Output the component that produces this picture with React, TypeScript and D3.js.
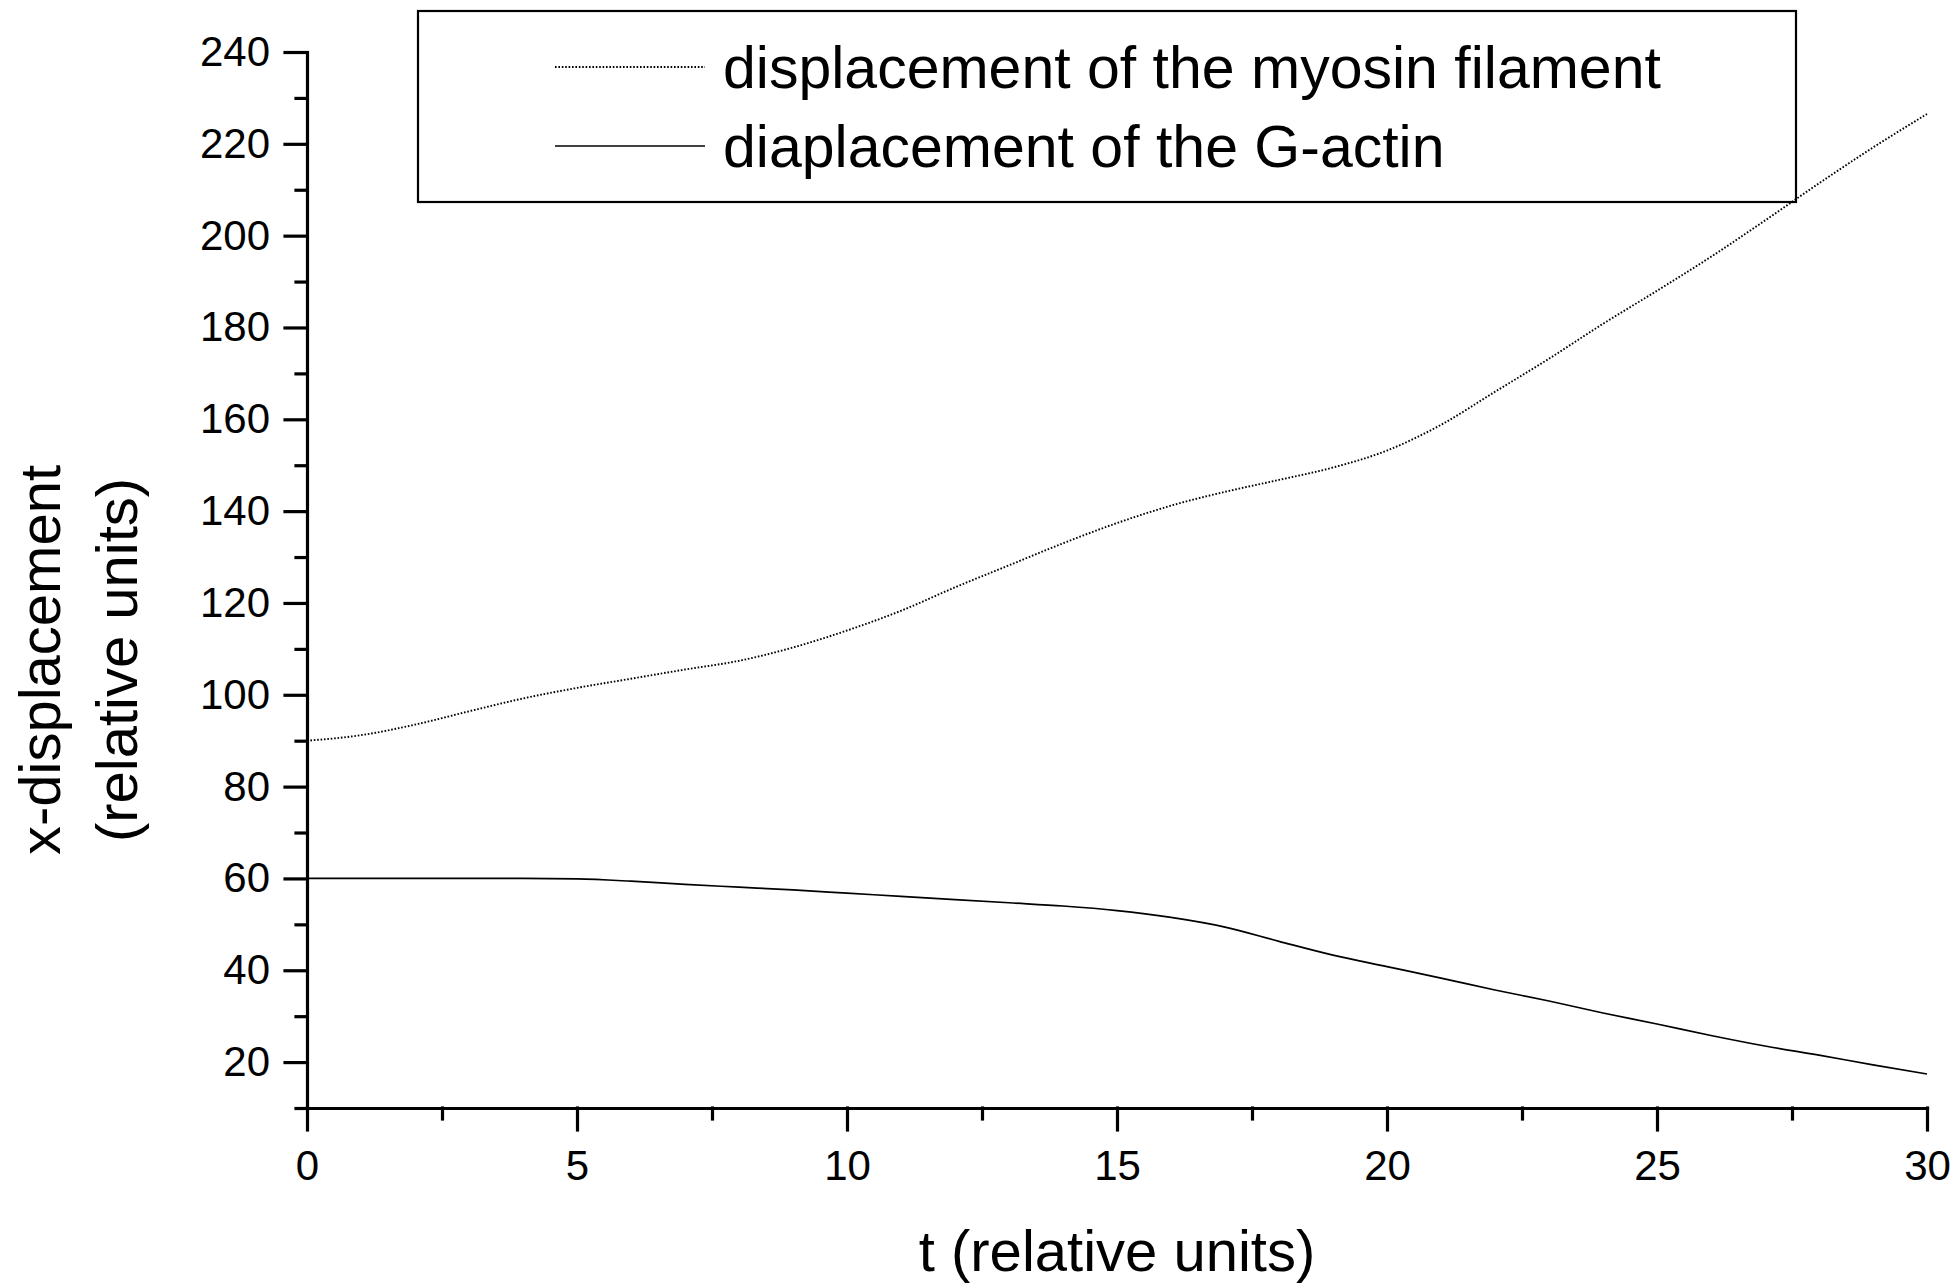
import * as React from 'react'
import { useEffect, useRef } from 'react'
import * as d3 from 'd3'

// time samples (relative units)
const tValues = [0, 1, 2, 3, 4, 5, 6, 7, 8, 9, 10, 11, 12, 13, 14, 15, 16, 17, 18, 19, 20, 21, 22, 23, 24, 25, 26, 27, 28, 29, 30]

// displacement of the myosin filament (dotted)
const myosinValues = [90, 91.2, 93.5, 96.4, 99.2, 101.5, 103.5, 105.5, 107.4, 110.3, 114, 118.3, 123.4, 128.2, 133, 137.4, 141.2, 144.2, 146.8, 149.5, 153.2, 158.8, 166, 173.2, 180.8, 188, 195.4, 203.3, 211.4, 219.2, 226.5]

// diaplacement of the G-actin (solid)
const actinValues = [60, 60, 60, 60, 60, 59.9, 59.4, 58.7, 58.1, 57.5, 56.8, 56.1, 55.4, 54.7, 54, 53, 51.5, 49.4, 46.3, 43.3, 40.8, 38.3, 35.7, 33.3, 30.7, 28.3, 25.8, 23.5, 21.5, 19.4, 17.4]

const xMajorTicks = [0, 5, 10, 15, 20, 25, 30]
const xMinorTicks = [2.5, 7.5, 12.5, 17.5, 22.5, 27.5]
const yMajorTicks = [20, 40, 60, 80, 100, 120, 140, 160, 180, 200, 220, 240]
const yMinorTicks = [10, 30, 50, 70, 90, 110, 130, 150, 170, 190, 210, 230]

const legendLabels = ['displacement of the myosin filament', 'diaplacement of the G-actin']
const xTitle = 't (relative units)'
const yTitle = ['x-displacement', '(relative units)']

const width = 1960
const height = 1285
const FONT = "'Liberation Sans', Arial, Helvetica, sans-serif"

const App = () => {
    const chartRef = useRef<SVGSVGElement>(null)

    useEffect(() => {
        document.body.style.margin = '0'
        const svg = d3.select(chartRef.current)
        svg.selectAll('*').remove()

        const xScale = d3.scaleLinear().domain([0, 30]).range([307, 1927])
        const yScale = d3.scaleLinear().domain([10, 240]).range([1108, 52])

        // lines
        const myosin = tValues.map((t, i) => ({ t, v: myosinValues[i] }))
        const actin = tValues.map((t, i) => ({ t, v: actinValues[i] }))
        const line = d3.line<{ t: number, v: number }>()
            .x(d => xScale(d.t))
            .y(d => yScale(d.v))
            .curve(d3.curveMonotoneX)

        svg.append('path')
            .datum(myosin)
            .attr('d', line)
            .attr('fill', 'none')
            .attr('stroke', '#000')
            .attr('stroke-width', 1.9)
            .attr('stroke-dasharray', '1.6,1.8')

        svg.append('path')
            .datum(actin)
            .attr('d', line)
            .attr('fill', 'none')
            .attr('stroke', '#000')
            .attr('stroke-width', 1.7)

        // y axis
        const yAxisG = svg.append('g').attr('transform', `translate(${xScale(0)},0)`)
        yAxisG.call(d3.axisLeft(yScale).tickValues(yMajorTicks).tickSize(22).tickSizeOuter(0).tickPadding(15).tickFormat(d3.format('d')))
        yAxisG.append('g').call(d3.axisLeft(yScale).tickValues(yMinorTicks).tickSize(11).tickSizeOuter(0).tickFormat(() => ''))
            .select('.domain').remove()

        // x axis
        const xAxisG = svg.append('g').attr('transform', `translate(0,${yScale(10)})`)
        xAxisG.call(d3.axisBottom(xScale).tickValues(xMajorTicks).tickSize(22).tickSizeOuter(0).tickPadding(20).tickFormat(d3.format('d')))
        xAxisG.append('g').call(d3.axisBottom(xScale).tickValues(xMinorTicks).tickSize(11).tickSizeOuter(0).tickFormat(() => ''))
            .select('.domain').remove()

        svg.selectAll('.domain, .tick line')
            .attr('stroke', '#000')
            .attr('stroke-width', 3.2)
            .attr('stroke-linecap', 'square')
        svg.selectAll('.tick text')
            .attr('fill', '#000')
            .style('font-family', FONT)
            .style('font-size', '42px')

        // axis titles
        svg.append('text')
            .attr('x', (xScale(0) + xScale(30)) / 2)
            .attr('y', 1271)
            .attr('text-anchor', 'middle')
            .style('font-family', FONT)
            .style('font-size', '58px')
            .text(xTitle)

        yTitle.forEach((txt, i) => {
            svg.append('text')
                .attr('transform', `translate(${60 + i * 77},660) rotate(-90)`)
                .attr('text-anchor', 'middle')
                .style('font-family', FONT)
                .style('font-size', '58px')
                .text(txt)
        })

        // legend
        svg.append('rect')
            .attr('x', 418)
            .attr('y', 11)
            .attr('width', 1796 - 418)
            .attr('height', 202 - 11)
            .attr('fill', 'none')
            .attr('stroke', '#000')
            .attr('stroke-width', 2.2)

        legendLabels.forEach((label, i) => {
            const ly = 67 + i * 79
            svg.append('line')
                .attr('x1', 555)
                .attr('x2', 705)
                .attr('y1', ly)
                .attr('y2', ly)
                .attr('stroke', '#000')
                .attr('stroke-width', i === 0 ? 1.9 : 1.7)
                .attr('stroke-dasharray', i === 0 ? '1.6,1.8' : null)
            svg.append('text')
                .attr('x', 723)
                .attr('y', ly + 21)
                .style('font-family', FONT)
                .style('font-size', '59px')
                .text(label)
        })
    }, [])

    return (
        <svg ref={chartRef} width={width} height={height} style={{ display: 'block', background: '#fff' }}></svg>
    )
}

export default App
